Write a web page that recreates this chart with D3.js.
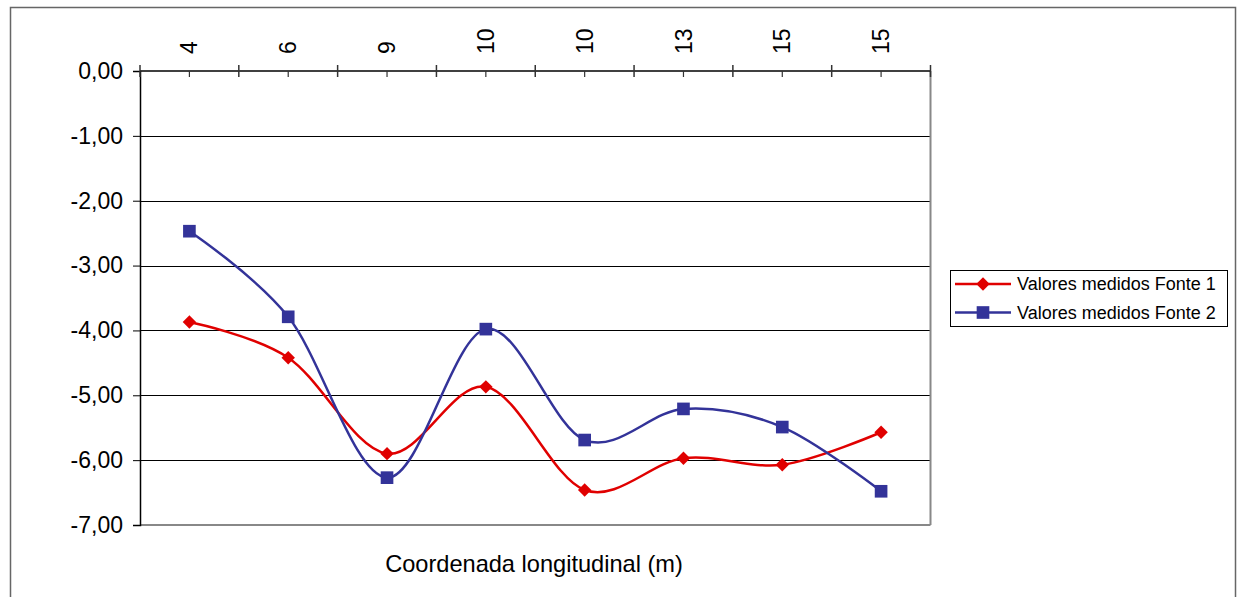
<!DOCTYPE html>
<html><head><meta charset="utf-8">
<script src="https://cdn.jsdelivr.net/npm/d3@7"></script>
<style>
html,body{margin:0;padding:0;background:#fff;}
svg{display:block;font-family:"Liberation Sans",Arial,sans-serif;}
</style></head>
<body>
<svg id="chart" width="1238" height="597"></svg>
<script>
const categories = ["4","6","9","10","10","13","15","15"];
const fonte1 = [-3.87,-4.42,-5.90,-4.87,-6.46,-5.97,-6.07,-5.57];
const fonte2 = [-2.47,-3.79,-6.27,-3.98,-5.69,-5.21,-5.49,-6.48];
const yTicks = [0,-1,-2,-3,-4,-5,-6,-7];
const seriesNames = ["Valores medidos Fonte 1","Valores medidos Fonte 2"];
const seriesColors = ["#e00000","#333399"];
const xTitle = "Coordenada longitudinal (m)";

const svg = d3.select("#chart");
const L=140, R=930.5, T=71, B=525;

// outer border
svg.append("rect").attr("x",10.5).attr("y",7.5).attr("width",1225).attr("height",600)
  .attr("fill","#fff").attr("stroke","#666").attr("stroke-width",1.5);

const idx = d3.range(categories.length);
const x = d3.scaleBand().domain(idx).range([L,R]).paddingInner(0).paddingOuter(0);
const xLin = d3.scaleLinear().domain([0,categories.length]).range([L,R]);
const y = d3.scaleLinear().domain([-7,0]).range([B,T]);

// gridlines
svg.append("g").selectAll("line").data(yTicks.filter(d=>d!==0 && d!==-7)).join("line")
  .attr("x1",L).attr("x2",R).attr("y1",d=>Math.round(y(d))+0.5).attr("y2",d=>Math.round(y(d))+0.5)
  .attr("stroke","#000").attr("stroke-width",1);
// bottom & right plot border (gray)
svg.append("line").attr("x1",L).attr("x2",R).attr("y1",y(-7)).attr("y2",y(-7)).attr("stroke","#888").attr("stroke-width",2);
svg.append("line").attr("x1",R).attr("x2",R).attr("y1",T).attr("y2",B).attr("stroke","#888").attr("stroke-width",2);

// left axis
const yAxis = d3.axisLeft(y).tickValues(yTicks).tickSize(7).tickPadding(10)
  .tickFormat(d=>d3.format(".2f")(d).replace("\u2212","-").replace(".",","));
const gy = svg.append("g").attr("transform",`translate(${L},0)`).call(yAxis);
gy.select(".domain").attr("stroke","#000").attr("stroke-width",1.5);
gy.selectAll(".tick line").attr("stroke","#000");
gy.selectAll("text").attr("font-size",23).attr("fill","#000").attr("font-family","Liberation Sans, Arial, sans-serif");

// top axis
const xAxis = d3.axisTop(x).tickSize(0).tickPadding(0).tickFormat(i=>categories[i]);
const gx = svg.append("g").attr("transform",`translate(0,${T})`).call(xAxis);
gx.select(".domain").remove();
gx.selectAll("text").attr("font-size",23).attr("fill","#000").attr("font-family","Liberation Sans, Arial, sans-serif")
  .attr("text-anchor","start").attr("transform","translate(0,-17) rotate(-90)").attr("x",0).attr("y",0).attr("dy","0.35em");
svg.append("line").attr("x1",L).attr("x2",R).attr("y1",T).attr("y2",T).attr("stroke","#000").attr("stroke-width",1.5);
// major ticks at boundaries
svg.append("g").selectAll("line").data(d3.range(categories.length+1)).join("line")
  .attr("x1",d=>xLin(d)).attr("x2",d=>xLin(d)).attr("y1",T-6).attr("y2",T+6)
  .attr("stroke","#333").attr("stroke-width",1.5);
// minor ticks at centers
svg.append("g").selectAll("line").data(idx).join("line")
  .attr("x1",d=>x(d)+x.bandwidth()/2).attr("x2",d=>x(d)+x.bandwidth()/2).attr("y1",T).attr("y2",T+6)
  .attr("stroke","#333").attr("stroke-width",1.2);

// series
const cx = i=>x(i)+x.bandwidth()/2;
const line = d3.line().x((d,i)=>cx(i)).y(d=>y(d)).curve(d3.curveCardinal.tension(0));
const series = [fonte1,fonte2];
series.forEach((s,k)=>{
  svg.append("path").datum(s).attr("d",line).attr("fill","none")
    .attr("stroke",seriesColors[k]).attr("stroke-width",2.5);
});
// markers
svg.append("g").selectAll("path").data(fonte1).join("path")
  .attr("d",d3.symbol(d3.symbolSquare,90))
  .attr("transform",(d,i)=>`translate(${cx(i)},${y(d)}) rotate(45)`)
  .attr("fill",seriesColors[0]);
svg.append("g").selectAll("path").data(fonte2).join("path")
  .attr("d",d3.symbol(d3.symbolSquare,160))
  .attr("transform",(d,i)=>`translate(${cx(i)},${y(d)})`)
  .attr("fill",seriesColors[1]);

// x title
svg.append("text").attr("x",534).attr("y",572).attr("text-anchor","middle")
  .attr("font-size",23.6).attr("fill","#000").text(xTitle);

// legend
const lg = svg.append("g");
lg.append("rect").attr("x",950.5).attr("y",270.5).attr("width",277).attr("height",56)
  .attr("fill","#fff").attr("stroke","#000").attr("stroke-width",1);
seriesNames.forEach((n,k)=>{
  const yy = 284 + k*28.5;
  lg.append("line").attr("x1",955).attr("x2",1011).attr("y1",yy).attr("y2",yy)
    .attr("stroke",seriesColors[k]).attr("stroke-width",2.5);
  lg.append("path").attr("d",d3.symbol(d3.symbolSquare,k===0?90:160))
    .attr("transform",`translate(983,${yy})`+(k===0?" rotate(45)":""))
    .attr("fill",seriesColors[k]);
  lg.append("text").attr("x",1017).attr("y",yy).attr("dy","0.36em")
    .attr("font-size",18).attr("fill","#000").text(n);
});
</script>
</body></html>
